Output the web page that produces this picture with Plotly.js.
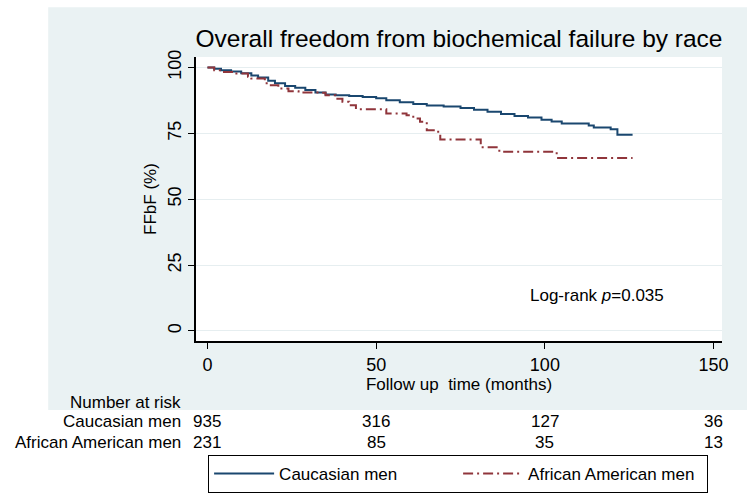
<!DOCTYPE html>
<html>
<head>
<meta charset="utf-8">
<script src="https://cdn.plot.ly/plotly-3.0.1.min.js"></script>
<style>
  body { margin: 0; background: #fff; }
  #chart { width: 754px; height: 500px; }
</style>
</head>
<body>
<div id="chart"></div>
<script>
// Kaplan-Meier estimates (months, % free of failure)
const cauTime = [0, 2, 4, 7, 10, 13, 15, 18, 20, 23, 26, 29, 32, 35, 38, 42, 46, 50, 53, 57, 61, 65, 70, 75, 79, 83, 87, 91, 95, 99, 102, 105, 113, 114.5, 119.5, 121.5, 126];
const cauSurv = [100, 99.5, 99, 98.5, 97.8, 97, 96.2, 95, 94, 93, 92.3, 91.5, 90.5, 89.8, 89.5, 89.2, 88.8, 88.3, 87.6, 86.8, 86.2, 85.6, 85.2, 84.6, 84.0, 83.2, 82.4, 81.6, 81.0, 80.2, 79.5, 78.8, 78.0, 77.2, 76.6, 74.5, 74.5];

const aaTime = [0, 2, 4, 8, 12, 13, 17, 18, 21, 24, 27, 33, 35, 38, 40, 42, 44, 53, 59, 61, 63, 65, 68, 69, 81, 86.5, 103.5, 126];
const aaSurv = [100, 99, 98.3, 97.7, 96.5, 95.8, 94, 93.3, 92, 91, 90.5, 90.4, 89.5, 88.2, 87, 85.7, 84.2, 82.6, 81.9, 80.7, 79.4, 76.2, 75.6, 72.7, 69.7, 68, 65.7, 65.7];

const groups = ['Caucasian men', 'African American men'];
const riskTimes = [0, 50, 100, 150];
const riskCau = [935, 316, 127, 36];
const riskAA = [231, 85, 35, 13];

const font = 'Liberation Sans, Arial, sans-serif';

const data = [
  {
    x: cauTime, y: cauSurv, name: groups[0],
    type: 'scatter', mode: 'lines',
    line: {color: '#1a476f', width: 2, shape: 'hv'}
  },
  {
    x: aaTime, y: aaSurv, name: groups[1],
    type: 'scatter', mode: 'lines',
    line: {color: '#90353b', width: 2, shape: 'hv', dash: '10px,4px,2px,4px'}
  }
];

// number at risk table under the axis
const annotations = [];
const rowY = [-0.285, -0.359];
annotations.push({
  text: 'Number at risk', xref: 'paper', yref: 'paper', x: -0.025, y: -0.215,
  xanchor: 'right', yanchor: 'middle', showarrow: false, font: {size: 17, color: '#000'}
});
[riskCau, riskAA].forEach((row, i) => {
  annotations.push({
    text: groups[i], xref: 'paper', yref: 'paper', x: -0.025, y: rowY[i],
    xanchor: 'right', yanchor: 'middle', showarrow: false, font: {size: 17, color: '#000'}
  });
  row.forEach((n, j) => {
    annotations.push({
      text: String(n), xref: 'x', yref: 'paper', x: riskTimes[j], y: rowY[i],
      xanchor: 'center', yanchor: 'middle', showarrow: false, font: {size: 17, color: '#000'}
    });
  });
});
annotations.push({
  text: 'Log-rank <i>p</i>=0.035', xref: 'x', yref: 'y', x: 95, y: 13.3,
  xanchor: 'left', yanchor: 'middle', showarrow: false, font: {size: 17, color: '#000'}
});

const layout = {
  width: 754, height: 500,
  margin: {l: 196, r: 32, t: 57, b: 159},
  paper_bgcolor: '#ffffff',
  plot_bgcolor: '#ffffff',
  font: {family: font, size: 17, color: '#000'},
  title: {
    text: 'Overall freedom from biochemical failure by race',
    font: {size: 24.5, color: '#000'},
    x: 0.5, xref: 'paper', y: 0.923, yref: 'container', yanchor: 'middle'
  },
  xaxis: {
    range: [-3.4, 152.5], tickvals: riskTimes, ticks: 'outside', ticklen: 6,
    tickcolor: '#000', showgrid: false, zeroline: false, automargin: false,
    showline: true, linecolor: '#000', linewidth: 2,
    tickfont: {size: 18},
    title: {text: 'Follow up\u00a0 time (months)', standoff: 0, font: {size: 17}}
  },
  yaxis: {
    range: [-3.8, 104], tickvals: [0, 25, 50, 75, 100], ticks: 'outside', ticklen: 6,
    tickcolor: '#000', tickangle: -90, showgrid: true, gridcolor: '#e6eef0', gridwidth: 1,
    zeroline: false, showline: true, linecolor: '#000', linewidth: 2, automargin: false,
    tickfont: {size: 18},
    title: {text: 'FFbF (%)', standoff: 4, font: {size: 17}}
  },
  shapes: [
    {type: 'rect', xref: 'paper', yref: 'paper', x0: -0.281, x1: 1.0475, y0: -0.243, y1: 1.175,
      fillcolor: '#eaf2f3', line: {width: 0}, layer: 'below'},
    {type: 'rect', xref: 'paper', yref: 'paper', x0: 0, x1: 1, y0: 0, y1: 1,
      fillcolor: '#ffffff', line: {width: 0}, layer: 'below'}
  ],
  annotations: annotations,
  showlegend: true,
  legend: {
    orientation: 'h', xref: 'container', yref: 'container',
    x: 0.276, y: 0.09, xanchor: 'left', yanchor: 'top',
    bordercolor: '#000', borderwidth: 1, bgcolor: '#fff',
    font: {size: 17}, itemwidth: 60, entrywidth: 174
  }
};

Plotly.newPlot('chart', data, layout, {displayModeBar: false, staticPlot: true});
</script>
</body>
</html>
